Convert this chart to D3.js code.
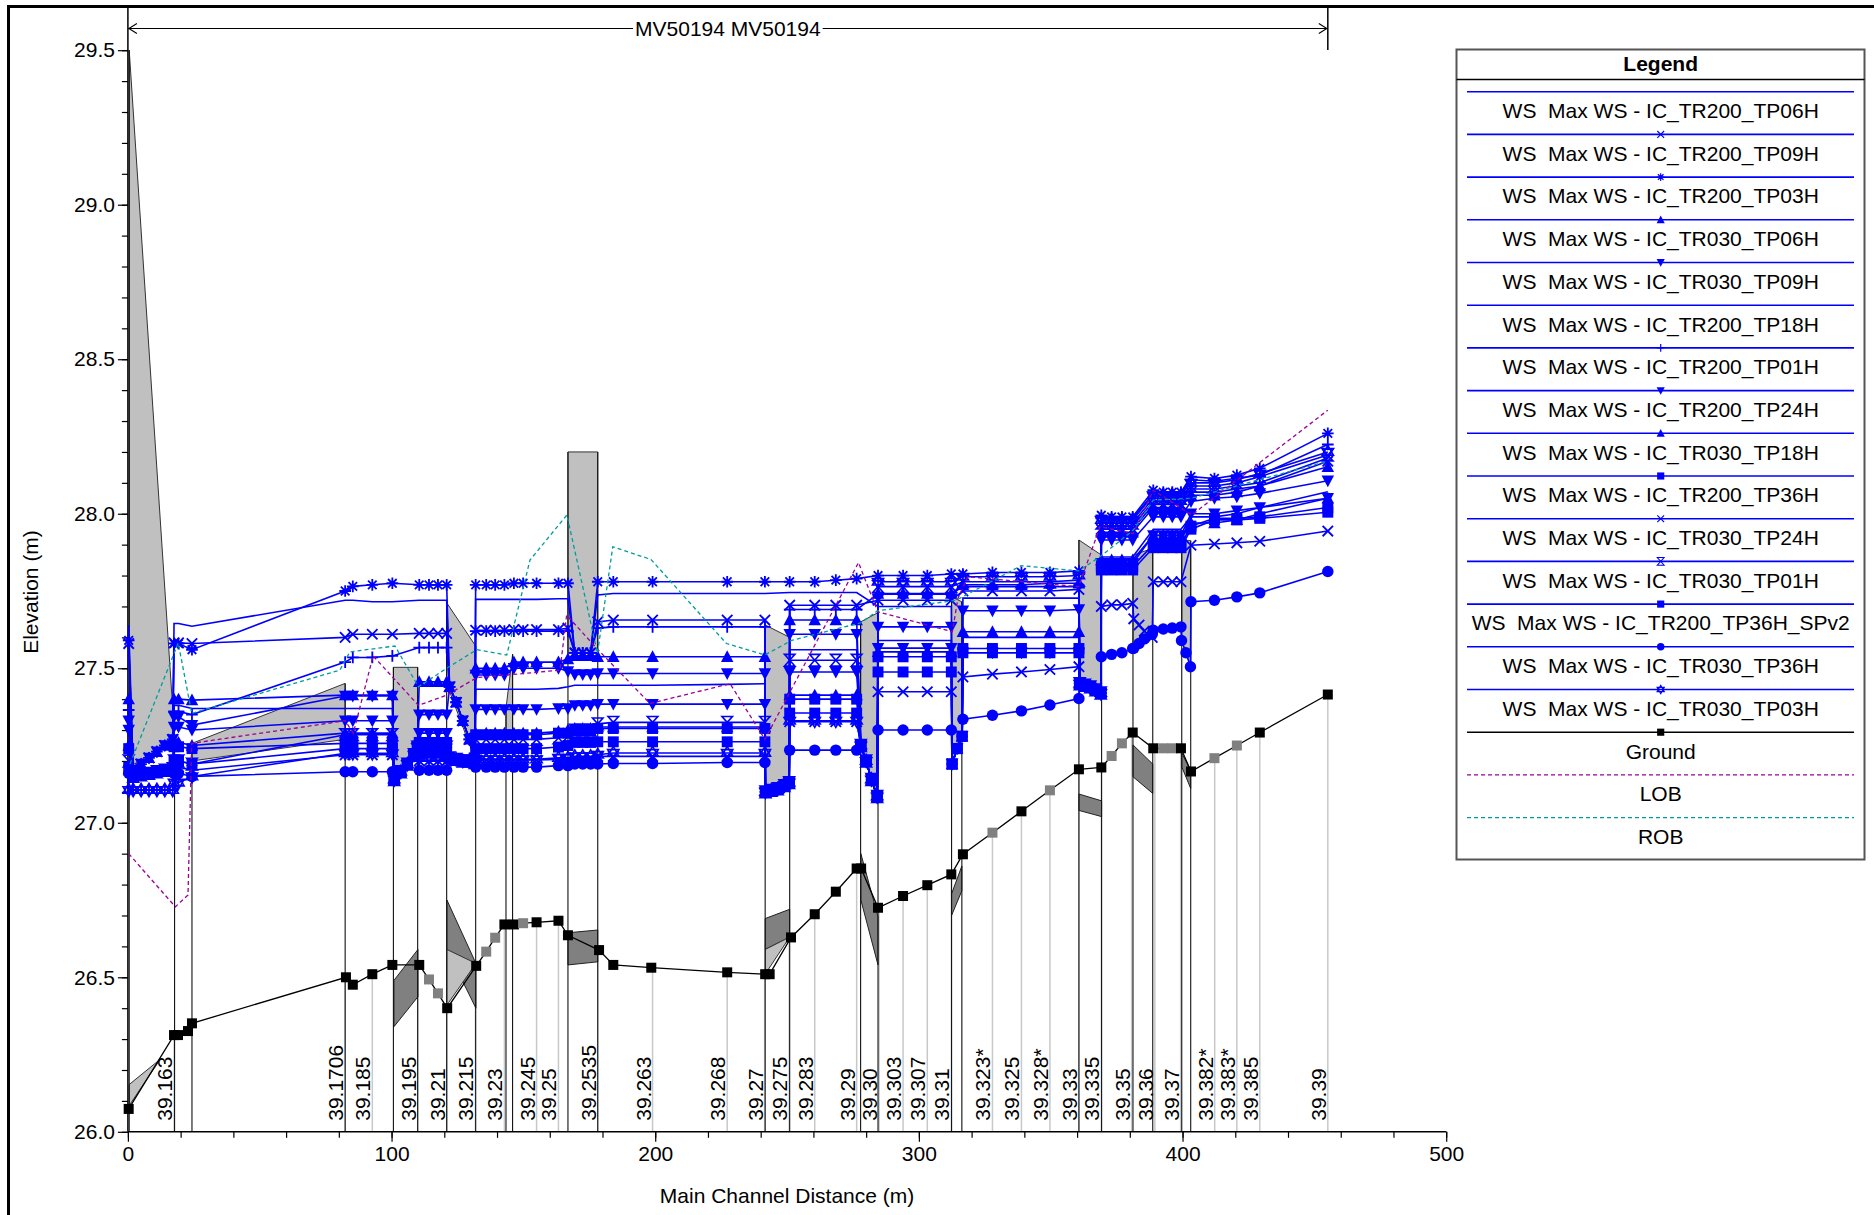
<!DOCTYPE html>
<html><head><meta charset="utf-8">
<script src="https://cdn.jsdelivr.net/npm/d3@7"></script>
<style>body{margin:0;background:#fff}svg text{font-family:Arial,"Liberation Sans",sans-serif}</style>
</head><body><svg id="c" width="1874" height="1215"></svg>
<script>
// ---------------- DATA ----------------
const yMajorTicks=[26.0,26.5,27.0,27.5,28.0,28.5,29.0,29.5];
const xMajorTicks=[0,100,200,300,400,500];
const reachLabel="MV50194 MV50194";
const reachStart=0, reachEnd=455.1;

const stationLabels=['39.163','39.1706','39.185','39.195','39.21','39.215','39.23','39.245','39.25','39.2535','39.263','39.268','39.27','39.275','39.283','39.29','39.30','39.303','39.307','39.31','39.323*','39.325','39.328*','39.33','39.335','39.35','39.36','39.37','39.382*','39.383*','39.385','39.39'];
const stationDist=[17.5,82.4,92.7,110.0,121.1,131.8,142.8,155.0,163.3,178.2,199.0,227.3,241.5,250.8,260.5,276.4,284.9,294.0,303.2,312.3,327.9,338.9,349.7,360.7,369.2,380.7,389.5,399.3,412.2,420.6,429.3,455.1];

const groundDist=[0.3,17.5,19.0,22.8,24.3,82.7,85.3,92.7,100.3,110.5,114.2,117.6,121.1,132.1,135.9,139.3,142.8,146.4,149.9,155.0,163.3,166.9,178.7,184.1,198.5,227.3,241.7,243.4,251.5,260.5,268.5,276.4,278.1,284.5,294.0,303.2,312.3,316.7,327.9,338.9,349.7,360.7,369.2,373.1,377.0,381.1,388.9,392.7,396.1,399.4,403.2,412.1,420.6,429.3,455.1];
const groundElev=[26.074,26.313,26.313,26.326,26.351,26.50,26.476,26.51,26.54,26.54,26.493,26.448,26.40,26.537,26.583,26.628,26.671,26.671,26.675,26.678,26.683,26.636,26.588,26.54,26.531,26.516,26.51,26.51,26.629,26.704,26.777,26.852,26.852,26.725,26.763,26.798,26.833,26.898,26.968,27.037,27.105,27.173,27.179,27.216,27.257,27.292,27.241,27.241,27.241,27.241,27.166,27.209,27.25,27.292,27.415];
const groundInterp=[0,0,0,0,0,0,0,0,0,0,1,1,0,0,1,1,0,0,1,0,0,0,0,0,0,0,0,0,0,0,0,0,0,0,0,0,0,0,1,0,1,0,0,1,1,0,0,1,1,0,0,1,1,0,0];

const lobDist=[0.3,18.0,22.8,24.2,82.4,85.5,93.0,110.2,120.9,132.4,143.7,163.9,166.4,178.4,198.0,228.4,241.6,277.1,284.4,312.7,314.8,318.5,360.6,368.7,381.3,388.9,403.5,455.1];
const lobElev=[26.90,26.728,26.766,27.257,27.33,27.29,27.54,27.38,27.413,27.47,27.478,27.494,27.672,27.559,27.386,27.45,27.27,27.842,27.683,27.618,27.726,27.796,27.764,27.958,27.936,28.076,27.996,28.335];
const robDist=[0.8,19.1,24.2,80.4,84.2,101.3,110.2,120.9,132.3,143.7,152.5,166.5,178.1,183.9,198.4,227.0,241.6,251.7,277.9,284.4,314.1,338.8,360.6,368.7,381.3,388.9,403.2,455.1];
const robElev=[27.19,27.582,27.354,27.494,27.553,27.572,27.44,27.50,27.56,27.543,27.85,27.996,27.548,27.893,27.852,27.58,27.543,27.59,27.647,27.686,27.72,27.832,27.815,27.861,27.947,28.044,28.05,28.17];

const wsDist=[0.3,17.5,19.2,24.3,82.4,85.3,92.7,100.3,110.5,114.2,117.6,120.9,131.9,135.9,139.3,142.8,146.4,149.9,155.0,163.3,166.9,169.5,172.5,175.5,178.2,184.1,199.0,227.3,241.6,251.0,260.5,268.5,276.4,284.5,294.0,303.2,312.3,316.7,327.9,338.9,349.7,360.7,369.2,373.1,377.0,381.1,388.9,392.7,396.1,399.4,403.2,412.1,420.6,429.3,455.1];

const wsNames=['WS  Max WS - IC_TR200_TP06H','WS  Max WS - IC_TR200_TP09H','WS  Max WS - IC_TR200_TP03H','WS  Max WS - IC_TR030_TP06H','WS  Max WS - IC_TR030_TP09H','WS  Max WS - IC_TR200_TP18H','WS  Max WS - IC_TR200_TP01H','WS  Max WS - IC_TR200_TP24H','WS  Max WS - IC_TR030_TP18H','WS  Max WS - IC_TR200_TP36H','WS  Max WS - IC_TR030_TP24H','WS  Max WS - IC_TR030_TP01H','WS  Max WS - IC_TR200_TP36H_SPv2','WS  Max WS - IC_TR030_TP36H','WS  Max WS - IC_TR030_TP03H'];
const wsMarkers=['none','x','ast','triU','triD','none','plus','triD','triU','sq','x','hour','sq','circ','star'];

const wsTR200_TP06H=[27.64,27.645,27.645,27.636,27.72,27.72,27.715,27.715,27.72,27.72,27.72,27.72,27.723,27.723,27.723,27.723,27.723,27.723,27.723,27.725,27.725,27.55,27.55,27.55,27.737,27.742,27.742,27.742,27.742,27.745,27.745,27.745,27.745,27.70,27.70,27.70,27.70,27.727,27.727,27.727,27.727,27.727,27.96,27.96,27.96,27.96,28.04,28.04,28.04,28.04,28.08,28.08,28.09,28.10,28.18];
const wsTR200_TP09H=[27.58,27.582,27.582,27.58,27.60,27.61,27.61,27.61,27.613,27.613,27.613,27.613,27.623,27.623,27.623,27.623,27.625,27.625,27.625,27.625,27.63,27.55,27.55,27.55,27.65,27.656,27.656,27.656,27.656,27.704,27.704,27.704,27.704,27.72,27.72,27.72,27.72,27.75,27.75,27.75,27.75,27.755,27.95,27.95,27.95,27.95,28.03,28.03,28.03,28.03,28.07,28.07,28.08,28.09,28.17];
const wsTR200_TP03H=[27.59,27.58,27.58,27.56,27.75,27.765,27.77,27.775,27.77,27.77,27.77,27.77,27.77,27.77,27.77,27.77,27.775,27.775,27.775,27.775,27.775,27.55,27.55,27.55,27.78,27.78,27.78,27.78,27.78,27.78,27.78,27.785,27.79,27.80,27.80,27.80,27.805,27.805,27.81,27.81,27.81,27.815,27.995,27.99,27.99,27.99,28.076,28.07,28.07,28.07,28.12,28.114,28.125,28.147,28.26];
const wsTR030_TP06H=[27.40,27.40,27.40,27.397,27.413,27.413,27.413,27.413,27.456,27.456,27.456,27.456,27.50,27.50,27.50,27.50,27.52,27.52,27.52,27.52,27.53,27.54,27.54,27.54,27.537,27.537,27.537,27.537,27.537,27.656,27.656,27.656,27.656,27.742,27.742,27.742,27.742,27.77,27.77,27.77,27.775,27.775,27.94,27.94,27.94,27.94,28.02,28.02,28.02,28.02,28.06,28.06,28.07,28.09,28.152];
const wsTR030_TP09H=[27.33,27.343,27.343,27.316,27.41,27.41,27.41,27.41,27.35,27.35,27.35,27.35,27.478,27.478,27.478,27.478,27.50,27.50,27.50,27.50,27.49,27.48,27.48,27.48,27.483,27.483,27.483,27.483,27.483,27.61,27.61,27.61,27.61,27.634,27.634,27.634,27.634,27.686,27.686,27.686,27.686,27.69,27.915,27.915,27.915,27.915,27.99,27.99,27.99,27.99,28.04,28.05,28.055,28.066,28.107];
const wsTR200_TP18H=[27.38,27.38,27.38,27.37,27.37,27.37,27.37,27.37,27.30,27.30,27.30,27.30,27.432,27.432,27.432,27.432,27.432,27.432,27.432,27.435,27.44,27.445,27.445,27.445,27.445,27.445,27.445,27.448,27.45,27.56,27.56,27.56,27.56,27.59,27.59,27.59,27.59,27.60,27.60,27.60,27.60,27.60,27.86,27.86,27.86,27.86,27.95,27.95,27.95,27.95,27.99,27.99,28.0,28.02,28.071];
const wsTR200_TP01H=[27.365,27.36,27.36,27.35,27.52,27.535,27.535,27.54,27.567,27.567,27.567,27.567,27.62,27.62,27.62,27.62,27.62,27.62,27.62,27.62,27.62,27.55,27.55,27.55,27.63,27.634,27.634,27.634,27.634,27.69,27.69,27.69,27.69,27.74,27.74,27.74,27.74,27.764,27.764,27.764,27.764,27.764,27.985,27.985,27.985,27.985,28.065,28.065,28.065,28.065,28.11,28.105,28.115,28.125,28.224];
const wsTR200_TP24H=[27.30,27.31,27.31,27.30,27.33,27.33,27.33,27.33,27.29,27.29,27.29,27.29,27.367,27.367,27.367,27.367,27.367,27.367,27.367,27.37,27.37,27.38,27.38,27.38,27.384,27.384,27.384,27.384,27.384,27.488,27.488,27.488,27.488,27.565,27.565,27.565,27.565,27.55,27.55,27.55,27.55,27.55,27.84,27.84,27.84,27.84,27.93,27.93,27.93,27.93,28.0,28.0,28.01,28.02,28.05];
const wsTR030_TP18H=[27.25,27.26,27.26,27.25,27.29,27.29,27.29,27.29,27.27,27.27,27.27,27.27,27.29,27.29,27.29,27.29,27.29,27.29,27.29,27.295,27.30,27.305,27.305,27.305,27.31,27.31,27.31,27.31,27.31,27.413,27.413,27.413,27.413,27.553,27.553,27.553,27.553,27.618,27.618,27.618,27.618,27.618,27.85,27.85,27.85,27.85,27.93,27.93,27.93,27.93,27.97,27.97,27.98,28.0,28.05];
const wsTR200_TP36H=[27.24,27.246,27.246,27.24,27.257,27.257,27.257,27.257,27.26,27.26,27.26,27.26,27.285,27.285,27.285,27.285,27.285,27.285,27.285,27.29,27.29,27.30,27.30,27.30,27.305,27.305,27.305,27.305,27.305,27.40,27.40,27.40,27.40,27.537,27.537,27.537,27.537,27.564,27.564,27.564,27.564,27.564,27.83,27.83,27.83,27.83,27.90,27.90,27.90,27.90,27.96,27.985,27.985,27.99,28.02];
const wsTR030_TP24H=[27.17,27.18,27.18,27.17,27.22,27.22,27.22,27.22,27.20,27.20,27.20,27.20,27.203,27.203,27.203,27.203,27.203,27.203,27.203,27.205,27.205,27.21,27.21,27.21,27.215,27.215,27.215,27.215,27.215,27.327,27.327,27.327,27.327,27.424,27.424,27.424,27.424,27.472,27.481,27.488,27.496,27.505,27.70,27.705,27.705,27.71,27.78,27.78,27.78,27.78,27.898,27.902,27.906,27.911,27.944];
const wsTR030_TP01H=[27.20,27.20,27.20,27.19,27.285,27.285,27.285,27.285,27.245,27.245,27.245,27.245,27.27,27.27,27.27,27.27,27.27,27.27,27.27,27.275,27.28,27.30,27.30,27.30,27.32,27.325,27.325,27.325,27.325,27.526,27.526,27.526,27.526,27.764,27.764,27.764,27.764,27.78,27.78,27.78,27.78,27.785,27.97,27.97,27.97,27.97,28.05,28.05,28.05,28.05,28.09,28.09,28.10,28.12,28.19];
const wsTR200_TP36H_SPv2=[27.18,27.20,27.20,27.19,27.24,27.24,27.24,27.24,27.23,27.23,27.23,27.23,27.24,27.24,27.24,27.24,27.24,27.24,27.24,27.245,27.25,27.26,27.26,27.26,27.262,27.262,27.262,27.262,27.262,27.355,27.355,27.355,27.355,27.488,27.488,27.488,27.488,27.55,27.55,27.55,27.55,27.55,27.818,27.818,27.818,27.818,27.89,27.89,27.89,27.89,27.95,27.98,27.98,27.985,28.005];
const wsTR030_TP36H=[27.16,27.16,27.16,27.15,27.165,27.165,27.165,27.165,27.17,27.17,27.17,27.17,27.18,27.18,27.18,27.18,27.18,27.18,27.18,27.185,27.185,27.19,27.19,27.19,27.19,27.192,27.192,27.195,27.195,27.235,27.235,27.235,27.235,27.30,27.30,27.30,27.30,27.335,27.348,27.362,27.381,27.402,27.537,27.545,27.55,27.564,27.623,27.627,27.63,27.634,27.715,27.72,27.731,27.744,27.813];
const wsTR030_TP03H=[27.106,27.13,27.13,27.15,27.225,27.225,27.225,27.225,27.21,27.21,27.21,27.21,27.205,27.205,27.205,27.205,27.205,27.205,27.205,27.21,27.21,27.215,27.215,27.215,27.22,27.226,27.226,27.226,27.226,27.33,27.33,27.33,27.33,27.78,27.78,27.78,27.78,27.796,27.796,27.796,27.796,27.80,27.98,27.98,27.98,27.98,28.06,28.06,28.06,28.06,28.10,28.10,28.11,28.13,28.20];

// culvert interior sections: distances, elevation tracks, track used by each profile (-1 = passes over)
const cvA_dist=[2,5,8,11,14,17];
const cvA_tracks=[[27.106,27.106,27.106,27.106,27.106,27.106],[27.17,27.19,27.21,27.23,27.25,27.27],[27.15,27.155,27.16,27.165,27.17,27.175]];
const cvA_use=[1,1,1,1,1,1,0,2,2,2,2,2,2,2,0];
const cvD_dist=[101,103.5,106,108.5,109.8];
const cvD_tracks=[[27.14,27.165,27.19,27.22,27.245]];
const cvD_use=[-1,-1,-1,0,0,0,-1,0,0,0,0,0,0,0,0];
const cvE_dist=[122,124.5,127,129.5,131.5];
const cvE_tracks=[[27.44,27.39,27.33,27.27,27.21],[27.21,27.205,27.2,27.2,27.195]];
const cvE_use=[0,0,0,0,0,1,0,1,1,1,1,1,1,1,1];
const cvG_dist=[241.8,244,246.5,249,250.8];
const cvG_tracks=[[27.10,27.105,27.11,27.12,27.13]];
const cvG_use=[-1,0,-1,0,0,0,0,0,0,0,0,0,0,0,0];
const cvH_dist=[278,280,282,284.2];
const cvH_tracks=[[27.25,27.2,27.14,27.085]];
const cvH_use=[-1,-1,-1,0,0,0,-1,0,0,0,0,0,0,0,0];
const cvI_dist=[312.6,314.5,316.4];
const cvI_tracks=[[27.19,27.24,27.28]];
const cvI_use=[0,-1,-1,-1,0,0,-1,0,0,0,0,-1,0,0,-1];
const cvJ_dist=[361,363,365,367,369];
const cvJ_tracks=[[27.45,27.445,27.44,27.43,27.42]];
const cvJ_use=[0,0,0,0,0,0,0,0,0,0,0,0,0,0,0];
const cvK_dist=[381.5,383.5,385.5,388.5];
const cvK_tracks=[[27.66,27.64,27.62,27.60],[27.565,27.58,27.595,27.61]];
const cvK_use=[-1,-1,-1,-1,-1,-1,-1,-1,-1,-1,0,-1,-1,1,-1];
const cvL_dist=[399.6,401.3,403.0];
const cvL_tracks=[[27.59,27.55,27.505]];
const cvL_use=[-1,-1,-1,-1,-1,-1,-1,-1,-1,-1,-1,-1,-1,0,-1];

// structure outlines (distance, elevation)
const deckLight=[
 [[0.5,29.5],[17.7,27.28],[17.7,27.27],[0.5,27.18]],
 [[24.3,27.257],[82.4,27.451],[82.4,27.27],[24.3,27.2]],
 [[100.7,27.503],[109.9,27.503],[109.9,27.25],[100.7,27.14]],
 [[120.9,27.712],[131.9,27.572],[131.9,27.2],[120.9,27.45]],
 [[143.4,27.37],[145.9,27.545],[145.9,27.30],[143.4,27.30]],
 [[166.9,28.2],[178.2,28.2],[178.2,27.55],[166.9,27.55]],
 [[241.7,27.64],[251.0,27.60],[251.0,27.13],[241.7,27.10]],
 [[277.9,27.65],[284.5,27.68],[284.5,27.08],[277.9,27.25]],
 [[312.4,27.731],[316.3,27.715],[316.3,27.28],[312.4,27.19]],
 [[360.7,27.915],[369.3,27.866],[369.3,27.42],[360.7,27.45]],
 [[381.2,27.866],[388.7,27.888],[388.7,27.61],[381.2,27.57]],
 [[399.7,27.913],[403.1,27.913],[403.1,27.505],[399.7,27.59]],
 [[0.5,26.153],[12.3,26.235],[0.5,26.085]],
 [[241.7,26.59],[251,26.63],[241.7,26.51]],
 [[121,26.59],[121,26.41],[132,26.545]]
];
const deckDark=[
 [[100.9,26.49],[110,26.59],[110,26.437],[100.9,26.34]],
 [[121,26.75],[132,26.545],[132,26.40],[121,26.59]],
 [[166.9,26.644],[178.2,26.653],[178.2,26.55],[166.9,26.54]],
 [[241.7,26.69],[251,26.72],[251,26.63],[241.7,26.59]],
 [[278,26.90],[284.5,26.696],[284.5,26.54],[278,26.75]],
 [[312.4,26.77],[316.3,26.86],[316.3,26.78],[312.4,26.70]],
 [[360.7,27.093],[369.3,27.071],[369.3,27.02],[360.7,27.04]],
 [[381.2,27.252],[388.7,27.19],[388.7,27.095],[381.2,27.149]],
 [[399.7,27.225],[403.1,27.17],[403.1,27.111],[399.7,27.181]]
];
const faceDist=[0.5,17.7,24.3,82.4,100.7,109.9,120.9,131.9,143.4,145.9,166.9,178.2,241.7,251.0,277.9,284.5,312.4,316.3,360.7,369.3,381.2,388.7,399.7,403.1];
const faceTop=[29.5,27.28,27.257,27.451,27.503,27.503,27.712,27.572,27.37,27.545,28.2,28.2,27.64,27.60,27.65,27.68,27.731,27.715,27.915,27.866,27.866,27.888,27.913,27.913];

// ---------------- DRAW ----------------
const svg=d3.select('#c');
const FS=21;
const x=d3.scaleLinear().domain([0,500]).range([127.9,1446.2]);
const y=d3.scaleLinear().domain([26,29.5]).range([1131.8,50.2]);
const BLUE='#0000ff';

// frame
svg.append('line').attr('x1',7).attr('x2',1874).attr('y1',6.5).attr('y2',6.5).attr('stroke','#000').attr('stroke-width',3);
svg.append('line').attr('x1',8.5).attr('x2',8.5).attr('y1',5).attr('y2',1215).attr('stroke','#000').attr('stroke-width',3);

// station gray lines
const gGrid=svg.append('g');
stationDist.forEach(d=>{
  const gi=d3.minIndex(groundDist,g=>Math.abs(g-d));
  gGrid.append('line').attr('x1',x(d)).attr('x2',x(d)).attr('y1',y(26)).attr('y2',y(groundElev[gi]))
   .attr('stroke','#c8c8c8').attr('stroke-width',1.5);
});

// structures
const pg=d3.line().x(p=>x(p[0])).y(p=>y(p[1]));
const gS=svg.append('g');
deckDark.forEach(p=>gS.append('path').attr('d',pg(p)+'Z').attr('fill','#808080').attr('stroke','#222').attr('stroke-width',1));
deckLight.forEach(p=>gS.append('path').attr('d',pg(p)+'Z').attr('fill','#c0c0c0').attr('stroke','#333').attr('stroke-width',1));
faceDist.forEach((d,i)=>gS.append('line').attr('x1',x(d)).attr('x2',x(d)).attr('y1',y(26)).attr('y2',y(faceTop[i])).attr('stroke','#111').attr('stroke-width',1.1));

// axes
const gy1=svg.append('g').attr('transform',`translate(${x(0)},0)`)
  .call(d3.axisLeft(y).tickValues(d3.range(26,29.55,0.1)).tickSize(6).tickFormat(''));
const gy2=svg.append('g').attr('transform',`translate(${x(0)},0)`)
  .call(d3.axisLeft(y).tickValues(yMajorTicks).tickSize(10).tickPadding(3).tickFormat(d3.format('.1f')));
const gx1=svg.append('g').attr('transform',`translate(0,${y(26)})`)
  .call(d3.axisBottom(x).tickValues(d3.range(0,501,20)).tickSize(6).tickFormat(''));
const gx2=svg.append('g').attr('transform',`translate(0,${y(26)})`)
  .call(d3.axisBottom(x).tickValues(xMajorTicks).tickSize(10).tickPadding(4).tickSizeOuter(0));
[gy1,gy2,gx1,gx2].forEach(g=>{g.select('.domain').remove();g.selectAll('line').attr('stroke','#000').attr('stroke-width',1.2);
  g.selectAll('text').attr('font-size',FS).attr('font-family','Arial, Liberation Sans').attr('fill','#000');});
svg.append('line').attr('x1',x(0)).attr('x2',x(0)).attr('y1',5).attr('y2',y(26)).attr('stroke','#000').attr('stroke-width',1.5);
svg.append('line').attr('x1',x(0)).attr('x2',x(500)).attr('y1',y(26)).attr('y2',y(26)).attr('stroke','#000').attr('stroke-width',1.5);
svg.append('text').attr('x',(x(0)+x(500))/2).attr('y',1203).attr('text-anchor','middle').attr('font-size',FS).text('Main Channel Distance (m)');
svg.append('text').attr('transform','translate(38,592) rotate(-90)').attr('text-anchor','middle').attr('font-size',FS).text('Elevation (m)');

// station labels
stationDist.forEach((d,i)=>{
  svg.append('text').attr('transform',`translate(${x(d)-2},${y(26)-11}) rotate(-90)`).attr('font-size',FS).text(stationLabels[i]);
});

// reach annotation
const ry=28.5, rx0=x(reachStart), rx1=x(reachEnd), rxm=(rx0+rx1)/2;
const rt=svg.append('text').attr('x',rxm).attr('y',ry).attr('dy','0.35em').attr('text-anchor','middle').attr('font-size',FS).text(reachLabel);
const tw=rt.node().getComputedTextLength();
svg.append('line').attr('x1',rx0).attr('x2',rxm-tw/2-2).attr('y1',ry).attr('y2',ry).attr('stroke','#000').attr('stroke-width',1.1);
svg.append('line').attr('x1',rxm+tw/2+2).attr('x2',rx1).attr('y1',ry).attr('y2',ry).attr('stroke','#000').attr('stroke-width',1.1);
svg.append('path').attr('d',`M${rx0+9},${ry-5}L${rx0+1},${ry}L${rx0+9},${ry+5}`).attr('fill','none').attr('stroke','#000').attr('stroke-width',1.1);
svg.append('path').attr('d',`M${rx1-9},${ry-5}L${rx1-1},${ry}L${rx1-9},${ry+5}`).attr('fill','none').attr('stroke','#000').attr('stroke-width',1.1);
svg.append('line').attr('x1',rx1).attr('x2',rx1).attr('y1',6).attr('y2',50).attr('stroke','#000').attr('stroke-width',1.5);

// ground
const gG=svg.append('g');
gG.append('path').attr('d',d3.line().x((d,i)=>x(groundDist[i])).y(d=>y(d))(groundElev)).attr('fill','none').attr('stroke','#000').attr('stroke-width',1.3);
groundElev.forEach((z,i)=>gG.append('rect').attr('x',x(groundDist[i])-5).attr('y',y(z)-5).attr('width',10).attr('height',10).attr('fill',groundInterp[i]?'#808080':'#000'));

// markers
function marker(g,type,cx,cy,col,s){
  const k=v=>v*s;
  const t=`translate(${cx},${cy})`;
  const sw=Math.max(1.1,1.4*s);
  switch(type){
    case 'x': g.append('path').attr('transform',t).attr('d',`M${-k(4)},${-k(4)}L${k(4)},${k(4)}M${-k(4)},${k(4)}L${k(4)},${-k(4)}`).attr('stroke',col).attr('stroke-width',sw).attr('fill','none');break;
    case 'ast': g.append('path').attr('transform',t).attr('d',`M0,${-k(4.5)}V${k(4.5)}M${-k(4.5)},0H${k(4.5)}M${-k(3.3)},${-k(3.3)}L${k(3.3)},${k(3.3)}M${-k(3.3)},${k(3.3)}L${k(3.3)},${-k(3.3)}`).attr('stroke',col).attr('stroke-width',sw).attr('fill','none');break;
    case 'triU': g.append('path').attr('transform',t).attr('d',`M0,${-k(5)}L${k(4.8)},${k(4)}L${-k(4.8)},${k(4)}Z`).attr('fill',col);break;
    case 'triD': g.append('path').attr('transform',t).attr('d',`M0,${k(5)}L${k(4.8)},${-k(4)}L${-k(4.8)},${-k(4)}Z`).attr('fill',col);break;
    case 'plus': g.append('path').attr('transform',t).attr('d',`M${-k(4.5)},0H${k(4.5)}M0,${-k(4.5)}V${k(4.5)}`).attr('stroke',col).attr('stroke-width',sw).attr('fill','none');break;
    case 'sq': g.append('rect').attr('x',cx-k(4.2)).attr('y',cy-k(4.2)).attr('width',k(8.4)).attr('height',k(8.4)).attr('fill',col);break;
    case 'circ': g.append('circle').attr('cx',cx).attr('cy',cy).attr('r',k(4.4)).attr('fill',col);break;
    case 'hour': g.append('path').attr('transform',t).attr('d',`M${-k(4)},${-k(4.5)}H${k(4)}L${-k(4)},${k(4.5)}H${k(4)}Z`).attr('stroke',col).attr('stroke-width',sw*0.9).attr('fill','none');break;
    case 'star': g.append('path').attr('transform',t).attr('d',`M0,${-k(5)}L${k(4.3)},${k(2.5)}L${-k(4.3)},${k(2.5)}ZM0,${k(5)}L${k(4.3)},${-k(2.5)}L${-k(4.3)},${-k(2.5)}Z`).attr('stroke',col).attr('stroke-width',sw*0.9).attr('fill','none');break;
  }
}

// WS profiles
const wsValues=[wsTR200_TP06H,wsTR200_TP09H,wsTR200_TP03H,wsTR030_TP06H,wsTR030_TP09H,wsTR200_TP18H,wsTR200_TP01H,wsTR200_TP24H,wsTR030_TP18H,wsTR200_TP36H,wsTR030_TP24H,wsTR030_TP01H,wsTR200_TP36H_SPv2,wsTR030_TP36H,wsTR030_TP03H];
const culverts=[[cvA_dist,cvA_tracks,cvA_use],[cvD_dist,cvD_tracks,cvD_use],[cvE_dist,cvE_tracks,cvE_use],[cvG_dist,cvG_tracks,cvG_use],[cvH_dist,cvH_tracks,cvH_use],[cvI_dist,cvI_tracks,cvI_use],[cvJ_dist,cvJ_tracks,cvJ_use],[cvK_dist,cvK_tracks,cvK_use],[cvL_dist,cvL_tracks,cvL_use]];
const gW=svg.append('g'), gM=svg.append('g');
const profPts=wsValues.map((vals,pi)=>{
  const pts=wsDist.map((d,i)=>[d,vals[i]]);
  culverts.forEach(([cd,ct,cu])=>{const t=cu[pi]; if(t>=0) cd.forEach((d,k)=>pts.push([d,ct[t][k]]));});
  pts.sort((a,b)=>a[0]-b[0]);
  return pts;
});
profPts.forEach(pts=>gW.append('path').attr('d',pg(pts)).attr('fill','none').attr('stroke',BLUE).attr('stroke-width',1.6));
profPts.forEach((pts,pi)=>pts.forEach(p=>marker(gM,wsMarkers[pi],x(p[0]),y(p[1]),BLUE,1.3)));

// LOB / ROB
svg.append('path').attr('d',d3.line().x((d,i)=>x(lobDist[i])).y(d=>y(d))(lobElev)).attr('fill','none').attr('stroke','#990099').attr('stroke-width',1.3).attr('stroke-dasharray','4,3');
svg.append('path').attr('d',d3.line().x((d,i)=>x(robDist[i])).y(d=>y(d))(robElev)).attr('fill','none').attr('stroke','#009c9c').attr('stroke-width',1.3).attr('stroke-dasharray','4,3');

// legend
const lg=svg.append('g');
const LX0=1456.5, LX1=1864.5, LCX=1660.7;
lg.append('rect').attr('x',LX0).attr('y',49.5).attr('width',LX1-LX0).attr('height',810).attr('fill','#fff').attr('stroke','#555').attr('stroke-width',2);
lg.append('text').attr('x',LCX).attr('y',64).attr('dy','0.35em').attr('text-anchor','middle').attr('font-size',FS).attr('font-weight','bold').text('Legend');
lg.append('line').attr('x1',LX0).attr('x2',LX1).attr('y1',79.5).attr('y2',79.5).attr('stroke','#000').attr('stroke-width',1.5);
const legItems=wsNames.map((n,i)=>({name:n,color:BLUE,mk:wsMarkers[i],dash:null}))
  .concat([{name:'Ground',color:'#000',mk:'sq',dash:null},{name:'LOB',color:'#990099',mk:'none',dash:'4,3'},{name:'ROB',color:'#009c9c',mk:'none',dash:'4,3'}]);
legItems.forEach((it,i)=>{
  const ly=91.7+i*42.7;
  const ln=lg.append('line').attr('x1',1467).attr('x2',1854).attr('y1',ly).attr('y2',ly).attr('stroke',it.color).attr('stroke-width',it.dash?1.3:1.6);
  if(it.dash) ln.attr('stroke-dasharray',it.dash);
  marker(lg,it.mk,LCX,ly,it.color,0.85);
  lg.append('text').attr('x',LCX).attr('y',ly+19).attr('dy','0.35em').attr('text-anchor','middle').attr('font-size',FS).style('white-space','pre').text(it.name);
});
</script></body></html>
